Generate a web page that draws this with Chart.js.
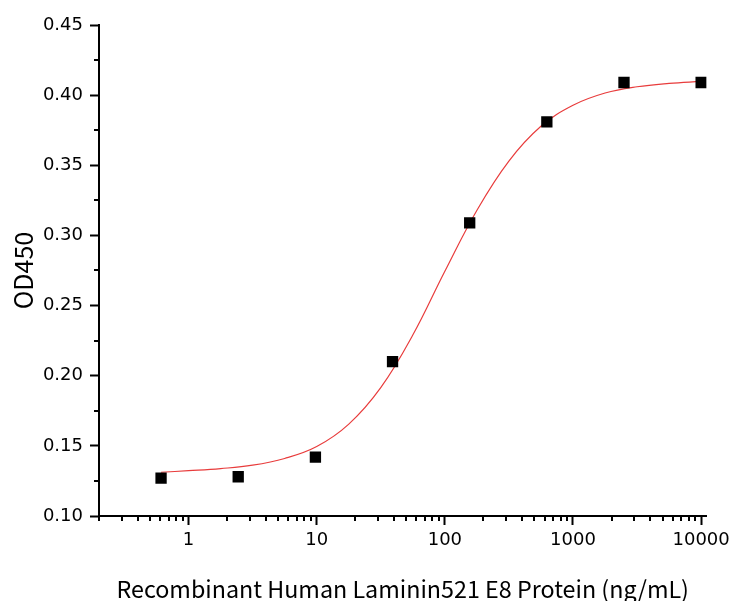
<!DOCTYPE html>
<html>
<head>
<meta charset="utf-8">
<script src="https://cdn.jsdelivr.net/npm/chart.js@4.4.1/dist/chart.umd.min.js"></script>
<style>
  html, body { margin: 0; padding: 0; background: #ffffff; }
  #wrap { width: 735px; height: 601px; position: relative; }
</style>
</head>
<body>
<div id="wrap"><canvas id="c" width="735" height="601"></canvas></div>
<script>
// Measured points (concentration in ng/mL, OD450)
const concentrations = [0.61, 2.44, 9.77, 39.06, 156.25, 625, 2500, 10000];
const od450 = [0.127, 0.128, 0.142, 0.210, 0.309, 0.381, 0.409, 0.409];

// Fitted curve
const fitConc = [0.61, 1, 1.78, 3.16, 5.62, 10, 17.8, 31.6, 56.2, 100, 178, 316, 562, 1000, 1780, 3160, 5620, 10000];
const fitOD = [0.1312, 0.1323, 0.1338, 0.1362, 0.1410, 0.1495, 0.1655, 0.1915, 0.2290, 0.2745, 0.3180, 0.3530, 0.3778, 0.3928, 0.4015, 0.4060, 0.4084, 0.4098];

// Axis ticks
const xMajorTicks = [1, 10, 100, 1000, 10000];
const xMinorTicks = [0.2, 0.3, 0.4, 0.5, 0.6, 0.7, 0.8, 0.9,
  2, 3, 4, 5, 6, 7, 8, 9, 20, 30, 40, 50, 60, 70, 80, 90,
  200, 300, 400, 500, 600, 700, 800, 900, 2000, 3000, 4000, 5000, 6000, 7000, 8000, 9000];
const yMajorTicks = [0.10, 0.15, 0.20, 0.25, 0.30, 0.35, 0.40, 0.45];
const yMinorTicks = [0.125, 0.175, 0.225, 0.275, 0.325, 0.375, 0.425];

const xTitle = 'Recombinant Human Laminin521 E8 Protein (ng/mL)';
const yTitle = 'OD450';

const minorTicksPlugin = {
  id: 'minorTicks',
  afterDraw(chart) {
    const ctx = chart.ctx;
    const xs = chart.scales.x, ys = chart.scales.y;
    ctx.save();
    ctx.strokeStyle = '#000';
    ctx.lineWidth = 2;
    ctx.beginPath();
    xMinorTicks.forEach(v => {
      const px = Math.round(xs.getPixelForValue(v));
      ctx.moveTo(px, xs.top);
      ctx.lineTo(px, xs.top + 5);
    });
    yMinorTicks.forEach(v => {
      const py = Math.round(ys.getPixelForValue(v));
      ctx.moveTo(ys.right, py);
      ctx.lineTo(ys.right - 5, py);
    });
    ctx.stroke();
    ctx.restore();
  }
};

const tickFont = { family: '"DejaVu Sans", Verdana, sans-serif', size: 18 };
const xTitleFont = { family: '"Noto Sans CJK SC", "Noto Sans", sans-serif', size: 23.3, lineHeight: 1.0 };
const yTitleFont = { family: '"Noto Sans CJK SC", "Noto Sans", sans-serif', size: 25, lineHeight: 1.2 };

new Chart(document.getElementById('c'), {
  type: 'scatter',
  data: {
    datasets: [
      {
        label: 'data',
        data: concentrations.map((x, i) => ({ x: x, y: od450[i] })),
        pointStyle: 'rect',
        pointRadius: 8,
        pointBackgroundColor: '#000',
        pointBorderWidth: 0,
        showLine: false
      },
      {
        label: 'fit',
        data: fitConc.map((x, i) => ({ x: x, y: fitOD[i] })),
        showLine: true,
        borderColor: 'rgb(232,60,60)',
        borderWidth: 1.2,
        pointRadius: 0,
        tension: 0.4,
        fill: false
      }
    ]
  },
  options: {
    responsive: false,
    animation: false,
    layout: { padding: { top: 25, right: 26, left: 0, bottom: 0 } },
    plugins: { legend: { display: false }, tooltip: { enabled: false } },
    scales: {
      x: {
        type: 'logarithmic',
        min: 0.2,
        max: 11000,
        afterFit(s) { s.height = 85; },
        afterBuildTicks(s) { s.ticks = xMajorTicks.map(v => ({ value: v })); },
        border: { display: true, color: '#000', width: 2 },
        grid: { drawOnChartArea: false, drawTicks: true, tickLength: 9, tickWidth: 2, tickColor: '#000' },
        ticks: {
          color: '#000', font: tickFont, padding: 5, maxRotation: 0, autoSkip: false,
          callback: (v) => String(v)
        },
        title: { display: true, text: xTitle, color: '#000', font: xTitleFont, padding: { top: 0, bottom: 0 } }
      },
      y: {
        type: 'linear',
        min: 0.10,
        max: 0.45,
        afterFit(s) { s.width = 99; },
        afterBuildTicks(s) { s.ticks = yMajorTicks.map(v => ({ value: v })); },
        border: { display: true, color: '#000', width: 2 },
        grid: { drawOnChartArea: false, drawTicks: true, tickLength: 9, tickWidth: 2, tickColor: '#000' },
        ticks: {
          color: '#000', font: tickFont, padding: 7, autoSkip: false,
          callback: (v) => Number(v).toFixed(2)
        },
        title: { display: true, text: yTitle, color: '#000', font: yTitleFont, padding: { top: 8, bottom: 0 } }
      }
    }
  },
  plugins: [minorTicksPlugin]
});
</script>
</body>
</html>
